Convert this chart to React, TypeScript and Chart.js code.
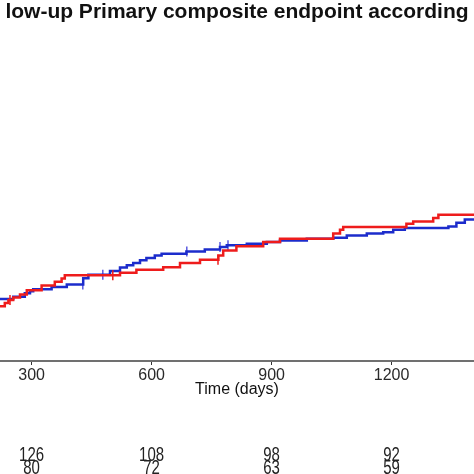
import { useEffect, useRef } from "react";
import { Chart, registerables } from "chart.js";

Chart.register(...registerables);

// step curves: value holds from day[i] until the next day
const redDays = [221, 233, 242, 254, 271, 288, 325, 358, 375, 383, 521, 562, 629, 671, 721, 767, 779, 812, 879, 921, 1054, 1071, 1079, 1237, 1254, 1304, 1317, 1420];
const redVals = [0.168, 0.178, 0.187, 0.195, 0.204, 0.217, 0.232, 0.243, 0.253, 0.263, 0.271, 0.280, 0.288, 0.301, 0.311, 0.324, 0.339, 0.352, 0.365, 0.375, 0.391, 0.403, 0.411, 0.421, 0.428, 0.439, 0.449, 0.449];

const blueDays = [221, 254, 283, 296, 304, 350, 388, 429, 442, 496, 521, 538, 554, 571, 587, 608, 625, 687, 733, 771, 788, 838, 888, 921, 988, 1054, 1088, 1138, 1179, 1204, 1233, 1342, 1362, 1383, 1420];
const blueVals = [0.190, 0.197, 0.208, 0.214, 0.220, 0.227, 0.235, 0.254, 0.265, 0.276, 0.287, 0.294, 0.301, 0.309, 0.316, 0.324, 0.329, 0.336, 0.342, 0.350, 0.355, 0.360, 0.365, 0.370, 0.375, 0.378, 0.385, 0.391, 0.395, 0.403, 0.408, 0.413, 0.424, 0.434, 0.434];

const redCensor = [246, 503, 766];
const blueCensor = [428, 478, 688, 771, 791];

const xTicks = [300, 600, 900, 1200];
const atRiskTop = [126, 108, 98, 92];
const atRiskBottom = [80, 72, 63, 59];

const FONT = "'Liberation Sans', Arial, Helvetica, sans-serif";
const RED = "#ee1c1c";
const BLUE = "#1c2ccc";

function valueAt(days: number[], vals: number[], t: number) {
  let v = vals[0];
  for (let i = 0; i < days.length; i++) {
    if (days[i] <= t) v = vals[i];
  }
  return v;
}

const riskTable = {
  id: "riskTable",
  afterDraw(chart: any) {
    const { ctx } = chart;
    const xs = chart.scales.x;
    ctx.save();
    ctx.fillStyle = "#222";
    ctx.font = `15px ${FONT}`;
    ctx.textAlign = "center";
    ctx.textBaseline = "alphabetic";
    const rows: [number[], number][] = [
      [atRiskTop, 460.5],
      [atRiskBottom, 474],
    ];
    rows.forEach(([row, baseY]) => {
      row.forEach((n, i) => {
        ctx.save();
        ctx.translate(xs.getPixelForValue(xTicks[i]), baseY);
        ctx.scale(1, 1.3);
        ctx.fillText(String(n), 0, 0);
        ctx.restore();
      });
    });
    ctx.restore();
  },
};

export default function App() {
  const canvasRef = useRef<HTMLCanvasElement>(null);

  useEffect(() => {
    if (!canvasRef.current) return;
    const chart = new Chart(canvasRef.current, {
      type: "line",
      data: {
        datasets: [
          {
            label: "red",
            data: redDays.map((d, i) => ({ x: d, y: redVals[i] })),
            borderColor: RED,
            borderWidth: 2.5,
            stepped: "before",
            pointRadius: 0,
            fill: false,
          },
          {
            label: "red censored",
            data: redCensor.map((d) => ({ x: d, y: valueAt(redDays, redVals, d) })),
            showLine: false,
            pointStyle: "line",
            rotation: 90,
            pointRadius: 5,
            borderWidth: 1.5,
            borderColor: RED,
          },
          {
            label: "blue",
            data: blueDays.map((d, i) => ({ x: d, y: blueVals[i] })),
            borderColor: BLUE,
            borderWidth: 2.5,
            stepped: "before",
            pointRadius: 0,
            fill: false,
          },
          {
            label: "blue censored",
            data: blueCensor.map((d) => ({ x: d, y: valueAt(blueDays, blueVals, d) })),
            showLine: false,
            pointStyle: "line",
            rotation: 90,
            pointRadius: 5,
            borderWidth: 1.5,
            borderColor: "#5a5ae0",
          },
        ],
      },
      options: {
        animation: false,
        responsive: false,
        layout: { autoPadding: false, padding: { left: 0, right: 0, top: 0, bottom: 68 } },
        plugins: {
          legend: { display: false },
          tooltip: { enabled: false },
          title: {
            display: true,
            text: "low-up Primary composite endpoint according",
            color: "#111",
            font: { family: FONT, size: 21, weight: "bold" },
            padding: { top: 0, bottom: 10 },
          },
        },
        scales: {
          x: {
            type: "linear",
            min: 221,
            max: 1406,
            afterBuildTicks: (s: any) => {
              s.ticks = xTicks.map((v) => ({ value: v }));
            },
            afterFit: (s: any) => {
              s.height = 45;
              s.paddingLeft = 0;
              s.paddingRight = 0;
            },
            border: { display: true, color: "#707070", width: 2 },
            grid: { drawOnChartArea: false, drawTicks: true, tickLength: 4, color: "#333", tickWidth: 1 },
            ticks: {
              color: "#2a2a2a",
              font: { family: FONT, size: 16 },
              padding: 1,
              maxRotation: 0,
              autoSkip: false,
              callback: (v: any) => String(v),
            },
            title: {
              display: true,
              text: "Time (days)",
              color: "#111",
              font: { family: FONT, size: 16 },
              padding: { top: 0, bottom: 7 },
            },
          },
          y: { display: false, min: 0, max: 1 },
        },
      },
      plugins: [riskTable],
    });
    return () => chart.destroy();
  }, []);

  return (
    <div style={{ position: "absolute", left: 0, top: 0, width: 474, height: 474, background: "#fff" }}>
      <canvas ref={canvasRef} width={474} height={474} />
    </div>
  );
}
